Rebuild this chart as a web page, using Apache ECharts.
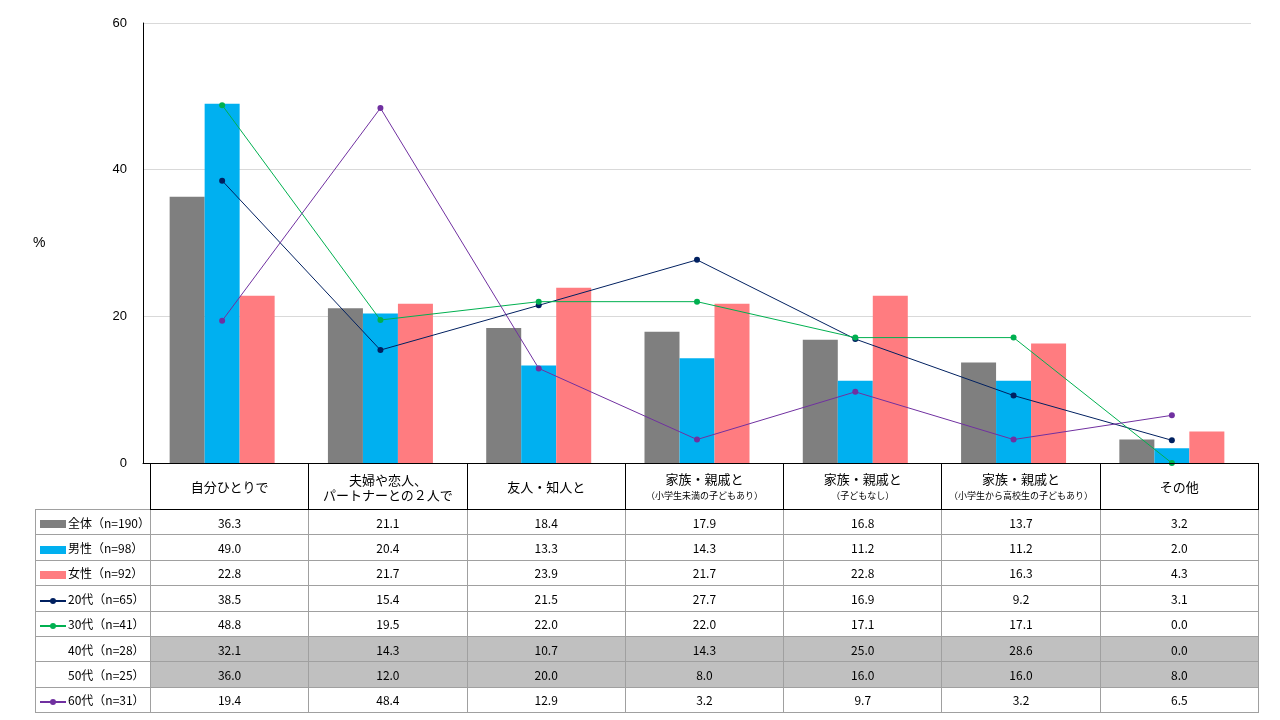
<!DOCTYPE html>
<html><head><meta charset="utf-8">
<script src="https://cdn.jsdelivr.net/npm/echarts@6/dist/echarts.min.js"></script>
<style>
body{margin:0;background:#fff;font-family:"Noto Sans CJK JP",sans-serif;}
#chart{position:absolute;left:0;top:0;width:1280px;height:470px;}
#tbl{position:absolute;left:35px;top:463px;border-collapse:collapse;table-layout:fixed;font-size:12px;color:#000;}
#tbl td{border:1px solid #a0a0a0;height:24.4px;padding:0;text-align:center;}
#tbl tr.head td{border:1px solid #000;height:45px;font-size:13px;line-height:15px;}
#tbl tr.head td.blank{border:none;border-right:1px solid #000;}
#tbl td.lab{text-align:left;padding-left:4px;white-space:nowrap;font-size:12px;}
#tbl tr.grey td.v{background:#c0c0c0;}
.mk{display:inline-block;vertical-align:middle;margin-right:2px;position:relative;}
.bar{width:26px;height:8px;}
.ln{width:26px;height:2px;}
.ln i{position:absolute;left:10px;top:-2px;width:6px;height:6px;border-radius:3px;}
.sp{display:inline-block;width:28px;}
small{font-size:9px;}
</style></head><body>
<div id="chart"></div>
<table id="tbl"></table>
<script>
var categories = ['自分ひとりで', '夫婦や恋人、<br>パートナーとの２人で', '友人・知人と', '家族・親戚と<br><small>（小学生未満の子どもあり）</small>', '家族・親戚と<br><small>（子どもなし）</small>', '家族・親戚と<br><small>（小学生から高校生の子どもあり）</small>', 'その他'];
var names = ['全体（n=190）', '男性（n=98）', '女性（n=92）', '20代（n=65）', '30代（n=41）', '40代（n=28）', '50代（n=25）', '60代（n=31）'];
var all   = [36.3, 21.1, 18.4, 17.9, 16.8, 13.7, 3.2];
var male  = [49.0, 20.4, 13.3, 14.3, 11.2, 11.2, 2.0];
var fem   = [22.8, 21.7, 23.9, 21.7, 22.8, 16.3, 4.3];
var age20 = [38.5, 15.4, 21.5, 27.7, 16.9, 9.2, 3.1];
var age30 = [48.8, 19.5, 22.0, 22.0, 17.1, 17.1, 0.0];
var age40 = [32.1, 14.3, 10.7, 14.3, 25.0, 28.6, 0.0];
var age50 = [36.0, 12.0, 20.0, 8.0, 16.0, 16.0, 8.0];
var age60 = [19.4, 48.4, 12.9, 3.2, 9.7, 3.2, 6.5];
var yTicks = [0, 20, 40, 60];

var rows = [all, male, fem, age20, age30, age40, age50, age60];
var colors = ['#7f7f7f', '#00b0f0', '#ff7c80', '#002060', '#00b050', null, null, '#7030a0'];
var kinds = ['bar', 'bar', 'bar', 'line', 'line', null, null, 'line'];

var chart = echarts.init(document.getElementById('chart'));
var series = [];
rows.forEach(function (d, i) {
  if (!kinds[i]) return;
  if (kinds[i] === 'bar') {
    series.push({name: names[i], type: 'bar', data: d, barWidth: 35, barGap: '0%', itemStyle: {color: colors[i]}});
  } else {
    series.push({name: names[i], type: 'line', data: d, symbol: 'circle', symbolSize: 6,
      lineStyle: {width: 1, color: colors[i]}, itemStyle: {color: colors[i]}});
  }
});
chart.setOption({
  animation: false,
  grid: {left: 143, right: 29, top: 23, bottom: 7},
  xAxis: {type: 'category', data: categories, axisLine: {lineStyle: {color: '#000'}}, axisTick: {show: false}, axisLabel: {show: false}},
  yAxis: {type: 'value', min: yTicks[0], max: yTicks[3], interval: 20,
    axisLine: {show: true, lineStyle: {color: '#000'}},
    splitLine: {lineStyle: {color: '#d9d9d9'}},
    axisLabel: {color: '#000', fontSize: 13, margin: 16}},
  graphic: [{type: 'text', left: 33, top: 236, style: {text: '%', fontSize: 14, fill: '#000'}}],
  series: series
});

var w0 = 108, w = (1251 - 143) / 7;
var html = '<colgroup><col style="width:' + w0 + 'px">';
for (var c = 0; c < 7; c++) html += '<col style="width:' + w + 'px">';
html += '</colgroup><tr class="head"><td class="blank"></td>';
categories.forEach(function (t) { html += '<td>' + t + '</td>'; });
html += '</tr>';
rows.forEach(function (d, i) {
  var mk = '<span class="sp"></span>';
  if (kinds[i] === 'bar') mk = '<span class="mk bar" style="background:' + colors[i] + '"></span>';
  else if (kinds[i] === 'line') mk = '<span class="mk ln" style="background:' + colors[i] + '"><i style="background:' + colors[i] + '"></i></span>';
  html += '<tr' + (i === 5 || i === 6 ? ' class="grey"' : '') + '><td class="lab">' + mk + names[i] + '</td>';
  d.forEach(function (v) { html += '<td class="v">' + v.toFixed(1) + '</td>'; });
  html += '</tr>';
});
document.getElementById('tbl').innerHTML = html;
</script>
</body></html>
